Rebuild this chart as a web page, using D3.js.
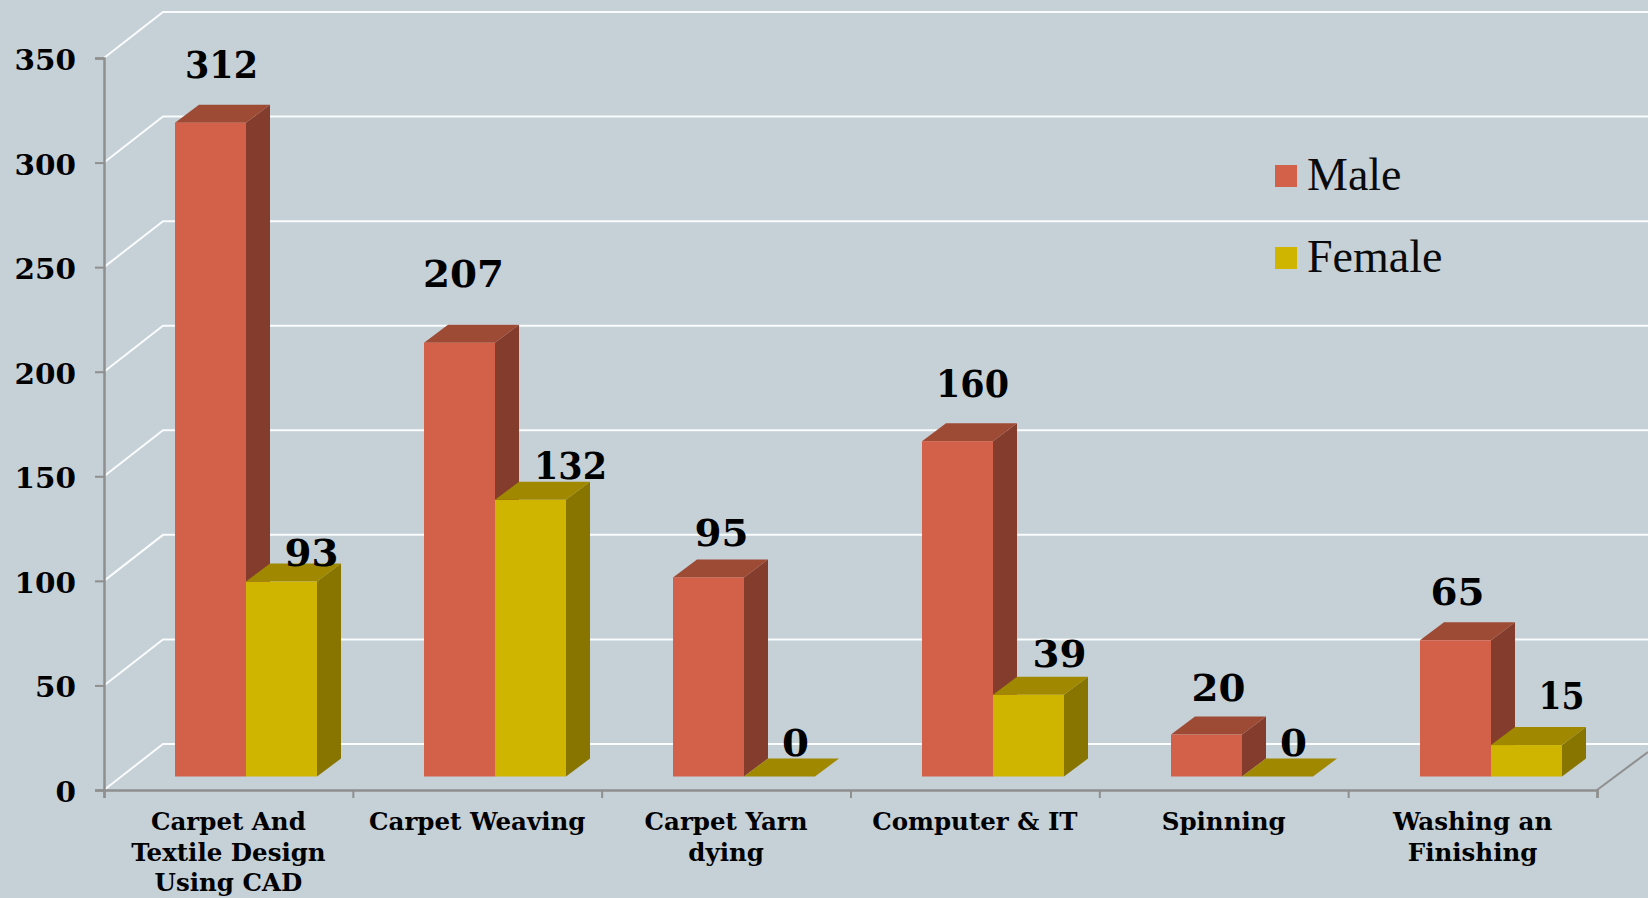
<!DOCTYPE html>
<html><head><meta charset="utf-8">
<script src="https://cdn.jsdelivr.net/npm/d3@7"></script>
<style>html,body{margin:0;padding:0;background:#c5d0d7}svg{display:block}</style>
</head><body><svg id="c" width="1648" height="898"></svg>
<script>
const categories=[["Carpet And","Textile Design","Using CAD"],["Carpet Weaving"],["Carpet Yarn","dying"],["Computer & IT"],["Spinning"],["Washing an","Finishing"]];
const male=[312,207,95,160,20,65];
const female=[93,132,0,39,0,15];
const yTicks=[0,50,100,150,200,250,300,350];
const seriesNames=["Male","Female"];
// hand-placed label nudges (layout only)
const maleNudge=[[11,-45],[4,-56],[13,-31],[15,-44],[12,-34],[2,-35]];
const femaleNudge=[[30,-16],[40,-21],[16,-21],[31,-28],[16,-21],[35,-36]];

const FONT="'DejaVu Serif',serif";
const svg=d3.select("#c");
const y=d3.scaleLinear().domain([0,350]).range([790,58]);
const barY=d3.scaleLinear().domain([0,350]).range([776.5,43]);
const x=d3.scaleBand().domain(d3.range(categories.length)).range([104,1598]);
const wall={dx:59,dy:-46}, depth={dx:24,dy:-18}, barW=71, barInset=71;

svg.append("rect").attr("width",1648).attr("height",898).attr("fill","#c5d0d7");
const line=d3.line();
svg.append("g").selectAll("path").data(yTicks).join("path")
 .attr("d",v=>line([[104,y(v)],[104+wall.dx,y(v)+wall.dy],[1648,y(v)+wall.dy]]))
 .attr("fill","none").attr("stroke","#fafcfd").attr("stroke-width",2);
svg.append("path").attr("d",line([[1597,790],[1648,752]])).attr("fill","none").attr("stroke","#8f8f8f").attr("stroke-width",2);
svg.append("g").attr("transform","translate(104,0)").call(d3.axisLeft(y).tickValues(yTicks).tickSize(9).tickPadding(0).tickFormat(d=>""));
const edgeScale=d3.scaleLinear().domain([0,categories.length]).range([104,1597]);
svg.append("g").attr("transform","translate(0,790)").call(d3.axisBottom(edgeScale).tickValues(d3.range(categories.length+1)).tickSize(8).tickFormat(d=>""));
svg.selectAll(".domain,.tick line").attr("stroke","#8f8f8f").attr("stroke-width",2.5);
svg.selectAll(".tick line").attr("stroke-width",2);

svg.append("g").selectAll("text").data(yTicks).join("text")
 .attr("x",76).attr("y",v=>y(v)+12).attr("text-anchor","end")
 .attr("font-family",FONT).attr("font-weight",700).attr("font-size",27).attr("fill","#000")
 .attr("textLength",v=>String(v).length*20.5).attr("lengthAdjust","spacingAndGlyphs").text(d=>d);

function bar(g,px,v,cols){
 const yt=barY(v), yb=barY(0), d=depth;
 g.append("path").attr("d",line([[px+barW,yt],[px+barW+d.dx,yt+d.dy],[px+barW+d.dx,yb+d.dy],[px+barW,yb]])+"Z").attr("fill",cols[1]);
 g.append("path").attr("d",line([[px,yt],[px+d.dx,yt+d.dy],[px+barW+d.dx,yt+d.dy],[px+barW,yt]])+"Z").attr("fill",cols[2]);
 if(v>0) g.append("rect").attr("x",px).attr("y",yt).attr("width",barW).attr("height",yb-yt).attr("fill",cols[0]);
}
const maleCols=["#d3614a","#843c2c","#9e4b35"], femCols=["#cfb500","#877500","#a08800"];
const bars=svg.append("g");
categories.forEach((c,i)=>{
 const px=x(i)+barInset;
 const g=bars.append("g");
 bar(g,px,male[i],maleCols);
 bar(g,px+barW,female[i],femCols);
});
const labelWidth=v=>[...String(v)].reduce((s,ch)=>s+(ch==="1"?19:27),0);
function labels(vals,nudge,off){
 svg.append("g").selectAll("text").data(vals).join("text")
  .attr("x",(v,i)=>x(i)+barInset+off+barW/2+nudge[i][0])
  .attr("y",(v,i)=>barY(v)+nudge[i][1])
  .attr("text-anchor","middle").attr("font-family",FONT).attr("font-weight",700).attr("font-size",38).attr("fill","#000")
  .attr("textLength",labelWidth).attr("lengthAdjust","spacingAndGlyphs").text(d=>d);
}
labels(male,maleNudge,0);
labels(female,femaleNudge,barW);
const cat=svg.append("g").selectAll("text").data(categories).join("text")
 .attr("text-anchor","middle").attr("font-family",FONT).attr("font-weight",700).attr("font-size",24.5).attr("fill","#000");
cat.each(function(lines,i){
 d3.select(this).selectAll("tspan").data(lines).join("tspan")
  .attr("x",edgeScale(i+0.5)).attr("y",(d,j)=>830+j*30.5).text(d=>d);
});
const leg=svg.append("g").selectAll("g").data(seriesNames).join("g");
leg.append("rect").attr("x",1275).attr("y",(d,i)=>165+i*82).attr("width",22).attr("height",22).attr("fill",(d,i)=>i?"#cfb500":"#d3614a");
leg.append("text").attr("x",1307).attr("y",(d,i)=>190+i*82).attr("font-family","'Liberation Serif',serif").attr("font-size",46).attr("fill","#0a0a0a").text(d=>d);
</script></body></html>
